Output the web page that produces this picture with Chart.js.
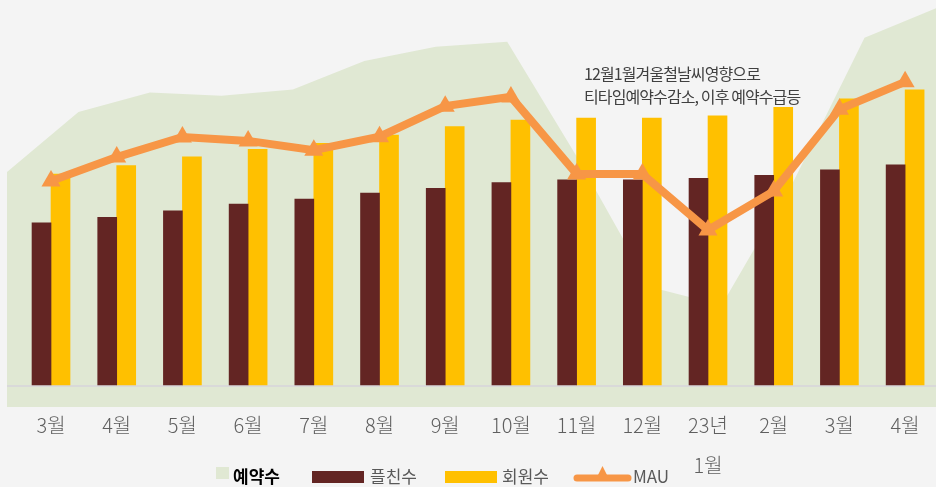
<!DOCTYPE html>
<html lang="ko">
<head>
<meta charset="utf-8">
<title>예약수 · 플친수 · 회원수 · MAU</title>
<script src="https://cdn.jsdelivr.net/npm/chart.js@4/dist/chart.umd.min.js"></script>
<style>
  html, body { margin: 0; padding: 0; background: #f4f4f4; }
  #wrap { position: relative; width: 936px; height: 487px; }
  #wrap canvas { position: absolute; left: 0; top: 0; }
  #legend {
    position: absolute; left: 0; top: 0; width: 936px; height: 487px;
    pointer-events: none;
    font-family: "Noto Sans CJK KR", "Noto Sans", sans-serif;
    font-size: 17px; color: #595959;
  }
  .item { position: absolute; top: 463px; height: 24px; display: flex; align-items: center; white-space: nowrap; }
  .sw { display: inline-block; }
</style>
</head>
<body>
<div id="wrap">
  <canvas id="areaChart" width="936" height="487"></canvas>
  <canvas id="chart" width="936" height="487"></canvas>
  <div id="legend"></div>
</div>
<script>
// x categories (the 23년 label runs onto a second line)
const months = ["3월", "4월", "5월", "6월", "7월", "8월", "9월", "10월", "11월", "12월", ["23년", "1월"], "2월", "3월", "4월"];
const seriesNames = ["예약수", "플친수", "회원수", "MAU"];

// 예약수 (background area, own scale)
const bookings = [2310, 2900, 3090, 3060, 3120, 3400, 3540, 3590, 2430, 1180, 1000, 2210, 3630, 3920];
// 플친수
const friends = [423, 437, 454, 471, 484, 500, 512, 527, 534, 534, 538, 546, 560, 573];
// 회원수
const members = [549, 571, 594, 613, 629, 650, 672, 689, 694, 694, 700, 722, 744, 767];
// MAU
const mau = [531, 593, 645, 635, 611, 646, 725, 749, 549, 549, 404, 505, 717, 788];

const noteLines = ["12월1월겨울철날씨영향으로", "티타임예약수감소, 이후 예약수급등"];

const colors = { area: "#e0e8d3", friends: "#632523", members: "#ffc000", mau: "#f79646" };
const FONT = '"Noto Sans CJK KR", "Noto Sans", sans-serif';

const toXY = (arr) => arr.map((v, i) => ({ x: i, y: v }));

// background area: its own chart underneath, spanning the full plot width
new Chart(document.getElementById("areaChart").getContext("2d"), {
  type: "line",
  data: {
    datasets: [
      {
        label: seriesNames[0],
        data: toXY(bookings),
        borderWidth: 0,
        pointRadius: 0,
        backgroundColor: colors.area,
        fill: "start",
        tension: 0,
      },
    ],
  },
  options: {
    responsive: false,
    animation: false,
    layout: { autoPadding: false, padding: { left: 7, right: 0, top: 0, bottom: 80 } },
    plugins: { legend: { display: false }, tooltip: { enabled: false } },
    scales: {
      x: { type: "linear", min: 0, max: 13, display: false },
      y: { min: 0, max: 4000, display: false },
    },
  },
});

// annotation text over the dip
const notePlugin = {
  id: "note",
  afterDraw(chart) {
    const ctx = chart.ctx;
    ctx.save();
    ctx.font = "16px " + FONT;
    ctx.fillStyle = "#404040";
    ctx.textBaseline = "middle";
    ctx.letterSpacing = "-0.9px";
    noteLines.forEach((t, i) => ctx.fillText(t, 584, 74 + i * 23));
    ctx.restore();
  },
};

new Chart(document.getElementById("chart").getContext("2d"), {
  type: "bar",
  data: {
    datasets: [
      {
        type: "line",
        label: seriesNames[3],
        data: toXY(mau),
        borderColor: colors.mau,
        backgroundColor: colors.mau,
        borderWidth: 8,
        pointStyle: "triangle",
        pointRadius: 11,
        pointBorderWidth: 0,
        pointBackgroundColor: colors.mau,
        tension: 0,
        clip: false,
        order: 0,
      },
      {
        label: seriesNames[1],
        data: toXY(friends),
        backgroundColor: colors.friends,
        barThickness: 19,
        order: 1,
      },
      {
        label: seriesNames[2],
        data: toXY(members),
        backgroundColor: colors.members,
        barThickness: 19,
        order: 2,
      },
    ],
  },
  options: {
    responsive: false,
    animation: false,
    layout: { autoPadding: false, padding: { left: 7, right: 0, top: 0, bottom: 0 } },
    plugins: {
      legend: { display: false },
      tooltip: { enabled: false },
    },
    scales: {
      x: {
        type: "linear",
        min: -0.67,
        max: 13.47,
        offset: false,
        grid: { display: false, drawTicks: false },
        border: { display: false },
        afterBuildTicks: (axis) => {
          axis.ticks = months.map((_, i) => ({ value: i }));
        },
        afterFit: (axis) => {
          axis.height = 80;
        },
        ticks: {
          autoSkip: false,
          maxRotation: 0,
          minRotation: 0,
          padding: -2,
          color: "#5f5f5f",
          font: { family: FONT, size: 20, weight: "300", lineHeight: 2 },
          callback: (value) => months[value],
        },
      },
      y: {
        min: -54.4,
        max: 1000,
        border: { display: false },
        ticks: { display: false },
        afterBuildTicks: (axis) => {
          axis.ticks = [{ value: 0 }];
        },
        grid: {
          drawTicks: false,
          lineWidth: 2,
          color: (c) => (c.tick && c.tick.value === 0 ? "#d9d9d9" : "rgba(0,0,0,0)"),
        },
      },
    },
  },
  plugins: [notePlugin],
});

// legend, built from the series names
const legend = document.getElementById("legend");
const legendItems = [
  { left: 216, swatch: '<span class="sw" style="width:13px;height:12px;background:' + colors.area + ';margin:-5px 4px 0 0"></span>', bold: true },
  { left: 312, swatch: '<span class="sw" style="width:52px;height:12px;background:' + colors.friends + ';margin:4px 6px 0 0"></span>' },
  { left: 445, swatch: '<span class="sw" style="width:52px;height:12px;background:' + colors.members + ';margin:4px 5px 0 0"></span>' },
  {
    left: 573,
    swatch:
      '<svg class="sw" width="59" height="20" style="margin:0 1px 0 0" viewBox="0 0 59 20">' +
      '<line x1="4" y1="13" x2="55" y2="13" stroke="' + colors.mau + '" stroke-width="7" stroke-linecap="round"/>' +
      '<polygon points="29.5,1 37,16 22,16" fill="' + colors.mau + '"/></svg>',
  },
];
legendItems.forEach((it, k) => {
  const div = document.createElement("div");
  div.className = "item";
  div.style.left = it.left + "px";
  const style = it.bold ? ' style="font-weight:700;color:#000"' : "";
  div.innerHTML = it.swatch + "<span" + style + ">" + seriesNames[k] + "</span>";
  legend.appendChild(div);
});
</script>
</body>
</html>
